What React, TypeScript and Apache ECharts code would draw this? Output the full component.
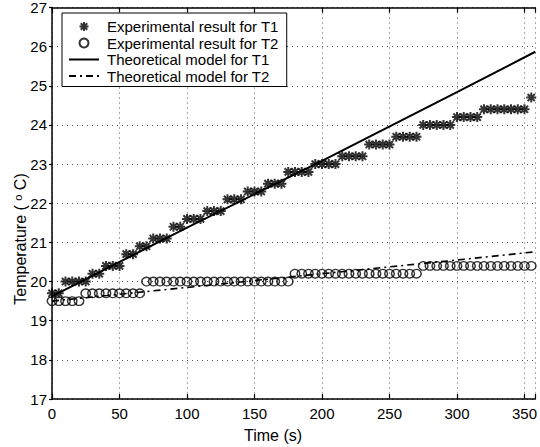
import React, { useEffect, useRef } from "react";
import * as echarts from "echarts";

// Experimental T1 (stars)
const t1Times = [
  0, 5, 10, 15, 20, 25, 30, 35, 40, 45, 50, 55, 60, 65, 70, 75, 80, 85, 90, 95,
  100, 105, 110, 115, 120, 125, 130, 135, 140, 145, 150, 155, 160, 165, 170, 175,
  180, 185, 190, 195, 200, 205, 210, 215, 220, 225, 230, 235, 240, 245, 250, 255,
  260, 265, 270, 275, 280, 285, 290, 295, 300, 305, 310, 315, 320, 325, 330, 335,
  340, 345, 350, 355,
];
const t1Values = [
  19.7, 19.7, 20.0, 20.0, 20.0, 20.0, 20.2, 20.2, 20.4, 20.4, 20.4, 20.7, 20.7,
  20.9, 20.9, 21.1, 21.1, 21.1, 21.4, 21.4, 21.6, 21.6, 21.6, 21.8, 21.8, 21.8,
  22.1, 22.1, 22.1, 22.3, 22.3, 22.3, 22.5, 22.5, 22.5, 22.8, 22.8, 22.8, 22.8,
  23.0, 23.0, 23.0, 23.0, 23.2, 23.2, 23.2, 23.2, 23.5, 23.5, 23.5, 23.5, 23.7,
  23.7, 23.7, 23.7, 24.0, 24.0, 24.0, 24.0, 24.0, 24.2, 24.2, 24.2, 24.2, 24.4,
  24.4, 24.4, 24.4, 24.4, 24.4, 24.4, 24.7,
];

// Experimental T2 (circles)
const t2Times = [
  0, 5, 10, 15, 20, 25, 30, 35, 40, 45, 50, 55, 60, 65, 70, 75, 80, 85, 90, 95,
  100, 105, 110, 115, 120, 125, 130, 135, 140, 145, 150, 155, 160, 165, 170, 175,
  180, 185, 190, 195, 200, 205, 210, 215, 220, 225, 230, 235, 240, 245, 250, 255,
  260, 265, 270, 275, 280, 285, 290, 295, 300, 305, 310, 315, 320, 325, 330, 335,
  340, 345, 350, 355,
];
const t2Values = [
  19.5, 19.5, 19.5, 19.5, 19.5, 19.7, 19.7, 19.7, 19.7, 19.7, 19.7, 19.7, 19.7,
  19.7, 20.0, 20.0, 20.0, 20.0, 20.0, 20.0, 20.0, 20.0, 20.0, 20.0, 20.0, 20.0,
  20.0, 20.0, 20.0, 20.0, 20.0, 20.0, 20.0, 20.0, 20.0, 20.0, 20.2, 20.2, 20.2,
  20.2, 20.2, 20.2, 20.2, 20.2, 20.2, 20.2, 20.2, 20.2, 20.2, 20.2, 20.2, 20.2,
  20.2, 20.2, 20.2, 20.4, 20.4, 20.4, 20.4, 20.4, 20.4, 20.4, 20.4, 20.4, 20.4,
  20.4, 20.4, 20.4, 20.4, 20.4, 20.4, 20.4,
];

// Theoretical models
const modelTimes = [0, 100, 200, 300, 358];
const modelT1 = [19.62, 21.38, 23.08, 24.84, 25.87];
const modelT2 = [19.5, 19.85, 20.2, 20.55, 20.76];

const xTicks = [0, 50, 100, 150, 200, 250, 300, 350];
const seriesNames = [
  "Experimental result for T1",
  "Experimental result for T2",
  "Theoretical model for T1",
  "Theoretical model for T2",
];

const FONT = "Liberation Sans, Arial, Helvetica, sans-serif";
const STAR =
  "path://M0 -5 L0 5 M-5 0 L5 0 M-3.6 -3.6 L3.6 3.6 M-3.6 3.6 L3.6 -3.6";

const zip = (a: number[], b: number[]) => a.map((v, i) => [v, b[i]]);

export default function App() {
  const ref = useRef<HTMLDivElement>(null);
  useEffect(() => {
    document.body.style.margin = "0";
    if (!ref.current) return;
    const chart = echarts.init(ref.current, null, { renderer: "svg" });
    const axisLine = { show: true, onZero: false, lineStyle: { color: "#000", width: 1.5 } };
    const gridLine = { show: true, lineStyle: { color: "#555", width: 1, type: [1, 4] } };
    chart.setOption({
      animation: false,
      backgroundColor: "#fff",
      textStyle: { fontFamily: FONT, color: "#000" },
      grid: { left: 52, top: 5, right: 0, bottom: 48 },
      legend: {
        orient: "vertical",
        left: 62,
        top: 13,
        data: seriesNames,
        backgroundColor: "#fff",
        borderColor: "#000",
        borderWidth: 1,
        borderRadius: 0,
        padding: [6, 8, 3, 6],
        itemGap: 1.5,
        itemWidth: 30,
        itemHeight: 9,
        textStyle: {
          fontFamily: FONT,
          fontSize: 15,
          color: "#000",
          padding: [0, 0, 0, 3],
        },
      },
      xAxis: [
        {
          type: "value",
          min: 0,
          max: 358,
          interval: 50,
          position: "bottom",
          axisLine,
          axisTick: { show: true, inside: true, length: 5, lineStyle: { color: "#000", width: 1.2 } },
          axisLabel: {
            color: "#000",
            fontFamily: FONT,
            fontSize: 15,
            margin: 7,
            formatter: (v: number) => (xTicks.includes(v) ? String(v) : ""),
          },
          splitLine: gridLine,
        },
        {
          type: "value",
          min: 0,
          max: 358,
          interval: 50,
          position: "top",
          axisLine,
          axisTick: { show: true, inside: true, length: 5, lineStyle: { color: "#000", width: 1.2 } },
          axisLabel: { show: false },
          splitLine: { show: false },
        },
      ],
      yAxis: {
        type: "value",
        min: 17,
        max: 27,
        interval: 1,
        axisLine,
        axisTick: { show: true, inside: false, length: 3, lineStyle: { color: "#000", width: 1.2 } },
        axisLabel: { color: "#000", fontFamily: FONT, fontSize: 15, margin: 5 },
        splitLine: gridLine,
      },
      graphic: [
        {
          type: "text",
          x: 273,
          y: 435,
          style: {
            text: "Time (s)",
            fontFamily: FONT,
            fontSize: 16,
            fill: "#000",
            align: "center",
            verticalAlign: "middle",
          },
        },
        {
          type: "text",
          x: 20,
          y: 239,
          rotation: Math.PI / 2,
          style: {
            text: "Temperature ( {s|o} C)",
            fontFamily: FONT,
            fontSize: 16,
            fill: "#000",
            align: "center",
            verticalAlign: "middle",
            rich: {
              s: { fontSize: 11, fontFamily: FONT, fill: "#000", verticalAlign: "top" },
            },
          },
        },
      ],
      series: [
        {
          name: seriesNames[0],
          type: "scatter",
          data: zip(t1Times, t1Values),
          symbol: STAR,
          symbolSize: 10,
          itemStyle: { color: "#000", borderColor: "#000", borderWidth: 2 },
          z: 3,
        },
        {
          name: seriesNames[1],
          type: "scatter",
          data: zip(t2Times, t2Values),
          symbol: "circle",
          symbolSize: [9.5, 8.5],
          itemStyle: { color: "rgba(0,0,0,0)", borderColor: "#000", borderWidth: 1.4 },
          z: 3,
        },
        {
          name: seriesNames[2],
          type: "line",
          data: zip(modelTimes, modelT1),
          symbol: "none",
          lineStyle: { color: "#000", width: 2 },
          itemStyle: { color: "rgba(0,0,0,0)", borderWidth: 0 },
          z: 4,
        },
        {
          name: seriesNames[3],
          type: "line",
          data: zip(modelTimes, modelT2),
          symbol: "none",
          lineStyle: { color: "#000", width: 1.6, type: [7, 4, 2, 4] },
          itemStyle: { color: "rgba(0,0,0,0)", borderWidth: 0 },
          z: 4,
        },
      ],
    });
    return () => chart.dispose();
  }, []);
  return <div ref={ref} style={{ width: 540, height: 447 }} />;
}
